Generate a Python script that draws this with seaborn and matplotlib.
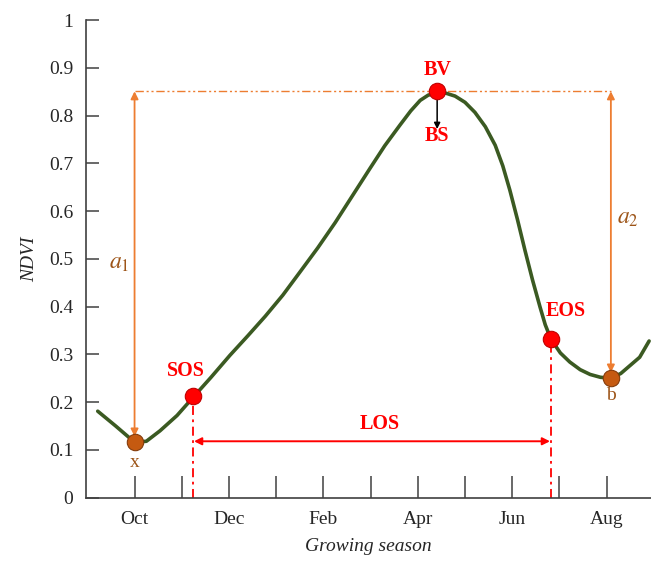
import matplotlib
matplotlib.use('Agg')
import matplotlib.pyplot as plt
import seaborn as sns
import pandas as pd

# ── data (x in months since Oct) ─────────────────────────────
month_pos = [0, 1, 2, 3, 4, 5, 6, 7, 8, 9, 10]
month_labels = ['Oct', '', 'Dec', '', 'Feb', '', 'Apr', '', 'Jun', '', 'Aug']

curve_x = [-0.78, -0.40, 0.0, 0.25, 0.54, 0.90, 1.24, 1.62, 2.02, 2.40, 2.77,
           3.14, 3.50, 3.88, 4.25, 4.62, 4.99, 5.30, 5.62, 5.85, 6.05, 6.22,
           6.41, 6.60, 6.79, 7.00, 7.21, 7.43, 7.64, 7.80, 7.95, 8.11, 8.27,
           8.43, 8.59, 8.70, 8.82, 9.02, 9.22, 9.44, 9.65, 9.87, 10.09, 10.30,
           10.50, 10.70, 10.90]
curve_y = [0.181, 0.150, 0.116, 0.118, 0.140, 0.172, 0.210, 0.252, 0.298, 0.339, 0.380,
           0.424, 0.472, 0.523, 0.576, 0.633, 0.690, 0.737, 0.780, 0.810, 0.832, 0.843,
           0.848, 0.847, 0.841, 0.828, 0.807, 0.777, 0.738, 0.695, 0.644, 0.583, 0.518,
           0.456, 0.399, 0.362, 0.332, 0.303, 0.284, 0.268, 0.258, 0.252, 0.250, 0.260,
           0.277, 0.294, 0.328]

red_pts_x = [1.24, 6.41, 8.82]      # SOS, BV, EOS
red_pts_y = [0.212, 0.851, 0.332]
brown_pts_x = [0.0, 10.09]          # x, b
brown_pts_y = [0.117, 0.251]

bv_level = 0.851
los_y = 0.118

yticks = [0, 0.1, 0.2, 0.3, 0.4, 0.5, 0.6, 0.7, 0.8, 0.9, 1]

GREEN = '#3b5a22'
RED = '#ff0000'
ORANGE = '#ed7d31'
BROWN = '#9c5316'

sns.set_style('ticks')
plt.rcParams['font.family'] = ['Liberation Serif', 'DejaVu Serif']
plt.rcParams['mathtext.fontset'] = 'stix'

fig = plt.figure(figsize=(6.51, 5.61), dpi=100)
ax = fig.add_axes([0.132, 0.113, 0.868, 0.851])

df = pd.DataFrame({'month': curve_x, 'ndvi': curve_y})
sns.lineplot(data=df, x='month', y='ndvi', ax=ax, color=GREEN, lw=2.6,
             sort=False, zorder=3)

# guide lines
ax.plot([brown_pts_x[0], brown_pts_x[1]], [bv_level, bv_level], color=ORANGE,
        lw=1, dashes=[6, 2, 1.5, 2, 1.5, 2], zorder=2)
for xv, yv in [(red_pts_x[0], red_pts_y[0]), (red_pts_x[2], red_pts_y[2])]:
    ax.plot([xv, xv], [0, yv], color=RED, lw=1.3, dashes=[5, 2.5, 1.5, 2.5], zorder=2)

arrow_kw = dict(arrowstyle='<|-|>', color=ORANGE, lw=1.3, mutation_scale=11,
                shrinkA=0, shrinkB=0)
ax.annotate('', xy=(brown_pts_x[0], 0.128), xytext=(brown_pts_x[0], bv_level),
            arrowprops=arrow_kw, zorder=2)
ax.annotate('', xy=(brown_pts_x[1], 0.262), xytext=(brown_pts_x[1], bv_level),
            arrowprops=arrow_kw, zorder=2)
ax.annotate('', xy=(red_pts_x[0] + 0.02, los_y), xytext=(red_pts_x[2] - 0.02, los_y),
            arrowprops=dict(arrowstyle='<|-|>', color=RED, lw=1.4, mutation_scale=11,
                            shrinkA=0, shrinkB=0), zorder=2)
ax.annotate('', xy=(red_pts_x[1], 0.772), xytext=(red_pts_x[1], bv_level),
            arrowprops=dict(arrowstyle='-|>', color='black', lw=1.1, mutation_scale=9,
                            shrinkA=0, shrinkB=0), zorder=4)

sns.scatterplot(x=red_pts_x, y=red_pts_y, ax=ax, color=RED, s=140,
                edgecolor='#c00000', linewidth=0.8, zorder=5)
sns.scatterplot(x=brown_pts_x, y=brown_pts_y, ax=ax, color='#c55a11', s=140,
                edgecolor='#843c0c', linewidth=0.8, zorder=5)

# labels
lab = dict(color=RED, fontsize=14.5, fontweight='bold', ha='center', va='center')
ax.text(1.08, 0.266, 'SOS', **lab)
ax.text(6.41, 0.895, 'BV', **lab)
ax.text(6.41, 0.757, 'BS', **lab)
ax.text(9.13, 0.391, 'EOS', **lab)
ax.text(5.19, 0.155, 'LOS', **lab)
ax.text(0.0, 0.074, 'x', color=BROWN, fontsize=14, ha='center', va='center')
ax.text(10.09, 0.213, 'b', color=BROWN, fontsize=14, ha='center', va='center')
ax.text(-0.32, 0.49, r'$a_1$', color=BROWN, fontsize=17, ha='center', va='center')
ax.text(10.45, 0.585, r'$a_2$', color=BROWN, fontsize=17, ha='center', va='center')

ax.set_xlim(-1.03, 10.94)
ax.set_ylim(0, 1)
ax.set_xticks(month_pos)
ax.set_xticklabels(month_labels)
ax.set_yticks(yticks)
ax.set_yticklabels([f'{v:g}' for v in yticks])
ax.tick_params(axis='x', direction='in', length=16, width=1.1, pad=10,
               labelsize=14, color='#404040')
ax.tick_params(axis='y', direction='in', length=9, width=1.1, pad=9,
               labelsize=14, color='#404040')
ax.set_xlabel('Growing season', fontsize=14, style='italic', labelpad=7)
ax.set_ylabel('NDVI', fontsize=14, style='italic', labelpad=8)
sns.despine(ax=ax)
for sp in ['left', 'bottom']:
    ax.spines[sp].set_color('#404040')
    ax.spines[sp].set_linewidth(1.2)

fig.savefig('out.png', dpi=100)
